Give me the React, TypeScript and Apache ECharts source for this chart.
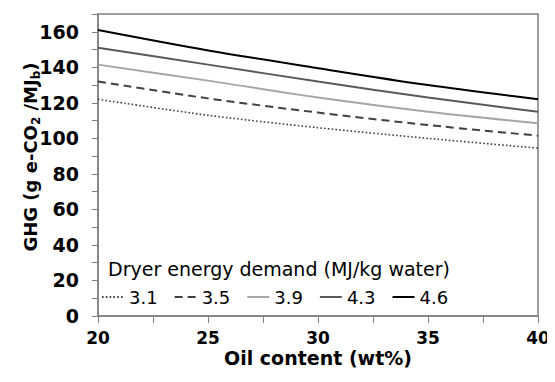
import React, { useEffect, useRef } from "react";
import * as echarts from "echarts";

const oilContent = [20, 25, 30, 35, 40];
const seriesNames = ["3.1", "3.5", "3.9", "4.3", "4.6"];
const ghg31 = [122, 113, 106, 100, 94.5];
const ghg35 = [132, 122.5, 114.5, 107.5, 101.5];
const ghg39 = [141.5, 132.5, 123, 115, 108.5];
const ghg43 = [151, 141.5, 132, 123, 115];
const ghg46 = [161, 149.5, 139.5, 130, 122];

const BOLD = "'DejaVu Sans', sans-serif";

export default function App() {
  const ref = useRef<HTMLDivElement>(null);
  useEffect(() => {
    if (!ref.current) return;
    const chart = echarts.init(ref.current, undefined, { renderer: "svg" });
    const values = [ghg31, ghg35, ghg39, ghg43, ghg46];
    const styles = [
      { color: "#404040", width: 1.6, type: [1.6, 2.2] as any },
      { color: "#404040", width: 2, type: [8, 5] as any },
      { color: "#a6a6a6", width: 2, type: "solid" as any },
      { color: "#595959", width: 2, type: "solid" as any },
      { color: "#000000", width: 2, type: "solid" as any },
    ];
    const series = seriesNames.map((n, i) => ({
      name: n,
      type: "line",
      data: oilContent.map((x, j) => [x, values[i][j]]),
      smooth: 0.3,
      showSymbol: false,
      symbol: "none",
      lineStyle: styles[i],
      itemStyle: { color: styles[i].color },
    }));
    chart.setOption({
      animation: false,
      grid: {
        left: 98,
        right: 17,
        top: 14,
        bottom: 66,
        show: true,
        borderColor: "#7f7f7f",
        borderWidth: 1.5,
        backgroundColor: "transparent",
      },
      title: {
        text: "Dryer energy demand (MJ/kg water)",
        left: 108,
        top: 259,
        padding: 0,
        textStyle: {
          fontFamily: BOLD,
          fontWeight: "normal",
          fontSize: 19,
          color: "#000",
        },
      },
      legend: {
        left: 101,
        top: 288,
        padding: 0,
        itemWidth: 22,
        itemHeight: 12,
        itemGap: 16,
        itemStyle: { opacity: 0, borderWidth: 0 },
        textStyle: { fontFamily: BOLD, fontSize: 18, color: "#000" },
        data: seriesNames,
      },
      xAxis: {
        type: "value",
        min: 20,
        max: 40,
        interval: 2.5,
        name: "Oil content (wt%)",
        nameLocation: "middle",
        nameGap: 32,
        nameMoveOverlap: false,
        nameTextStyle: {
          fontFamily: BOLD,
          fontWeight: "bold",
          fontSize: 19,
          color: "#000",
        },
        axisLine: { show: true, lineStyle: { color: "#7f7f7f", width: 1.5 } },
        axisTick: { show: true, length: 7, lineStyle: { color: "#7f7f7f", width: 1 } },
        splitLine: { show: false },
        axisLabel: {
          margin: 13,
          fontFamily: BOLD,
          fontWeight: "bold",
          fontSize: 17,
          color: "#000",
          formatter: (v: number) => (v % 5 === 0 ? String(v) : ""),
        },
      },
      yAxis: {
        type: "value",
        min: 0,
        max: 170,
        interval: 10,
        name: "{a|GHG (g e-CO}{s|2}{a| /MJ}{s|b}{a|)}",
        nameLocation: "middle",
        nameGap: 56,
        nameMoveOverlap: false,
        nameTextStyle: {
          padding: [0, 0, 0, 16],
          rich: {
            a: {
              fontFamily: BOLD,
              fontWeight: "bold",
              fontSize: 18,
              color: "#000",
              lineHeight: 24,
              verticalAlign: "middle",
            },
            s: {
              fontFamily: BOLD,
              fontWeight: "bold",
              fontSize: 12,
              color: "#000",
              lineHeight: 24,
              verticalAlign: "bottom",
            },
          },
        },
        axisLine: { show: true, lineStyle: { color: "#7f7f7f", width: 1.5 } },
        axisTick: { show: true, length: 6, lineStyle: { color: "#7f7f7f", width: 1 } },
        splitLine: { show: false },
        axisLabel: {
          margin: 19,
          fontFamily: BOLD,
          fontWeight: "bold",
          fontSize: 19,
          color: "#000",
          formatter: (v: number) => (v % 20 === 0 ? String(v) : ""),
        },
      },
      series,
    });
    return () => chart.dispose();
  }, []);
  return <div ref={ref} style={{ width: 555, height: 382, margin: -8 }} />;
}
